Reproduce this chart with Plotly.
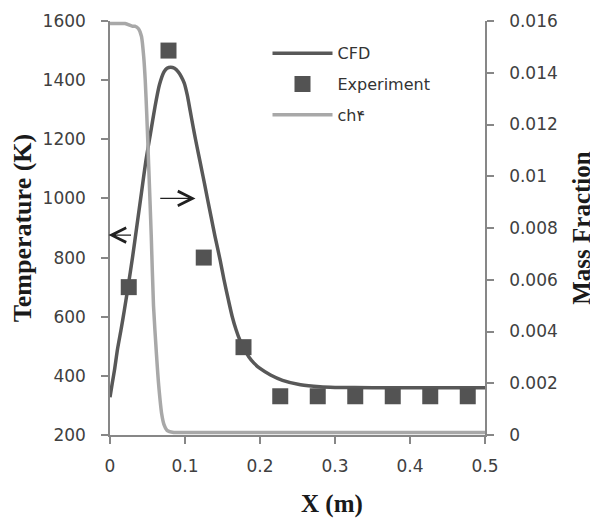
import plotly.graph_objects as go

# ---- data ----
cfd_x = [0.0, 0.003, 0.006, 0.010, 0.015, 0.019, 0.024, 0.030, 0.036, 0.042, 0.048,
         0.054, 0.060, 0.066, 0.072, 0.076, 0.081, 0.086, 0.091, 0.095, 0.099, 0.103,
         0.107, 0.111, 0.114, 0.118, 0.122, 0.126, 0.130, 0.135, 0.140, 0.147, 0.152,
         0.158, 0.163, 0.168, 0.173, 0.178, 0.185, 0.192, 0.200, 0.214, 0.230, 0.254,
         0.280, 0.300, 0.350, 0.400, 0.450, 0.500]
cfd_T = [328, 375, 420, 490, 560, 620, 700, 800, 910, 1020, 1130,
         1220, 1310, 1385, 1428, 1440, 1444, 1440, 1428, 1412, 1390, 1350,
         1295, 1240, 1200, 1150, 1100, 1050, 998, 935, 872, 790, 725,
         655, 600, 557, 522, 495, 465, 443, 425, 403, 385, 370,
         363, 361, 360, 360, 360, 360]

exp_x = [0.025, 0.078, 0.125, 0.178, 0.227, 0.277, 0.327, 0.377, 0.427, 0.477]
exp_T = [700, 1500, 800, 497, 331, 331, 331, 331, 331, 331]

ch4_x = [0.0, 0.020, 0.030, 0.033, 0.038, 0.042, 0.045, 0.047, 0.049, 0.0516, 0.055,
         0.058, 0.062, 0.065, 0.069, 0.072, 0.076, 0.085, 0.100, 0.200, 0.300, 0.400, 0.500]
ch4_y = [0.0159, 0.0159, 0.0158, 0.0158, 0.0157, 0.0154, 0.0146, 0.0137, 0.0124, 0.0104, 0.0077,
         0.0050, 0.0031, 0.0019, 0.0008, 0.0004, 0.00018, 0.0001, 0.0001, 0.0001, 0.0001, 0.0001, 0.0001]

# arrows: (tail_x, tip_x, temperature level)
arrow_left = (0.030, -0.002, 876)
arrow_right = (0.065, 0.114, 1000)

DARK = "#585858"
LIGHT = "#a8a8a8"
AXIS = "#878787"
TICKFONT = dict(family="DejaVu Sans", size=17, color="#404040")
TITLEFONT = dict(family="Liberation Serif", size=26, color="#1a1a1a")

fig = go.Figure()
fig.add_trace(go.Scatter(x=cfd_x, y=cfd_T, mode="lines", name="CFD",
                         line=dict(color=DARK, width=3.5, shape="spline", smoothing=0.6),
                         legendgroup="a"))
fig.add_trace(go.Scatter(x=exp_x, y=exp_T, mode="markers", name="Experiment",
                         marker=dict(symbol="square", size=16, color="#535353"),
                         legendgroup="b"))
fig.add_trace(go.Scatter(x=ch4_x, y=ch4_y, mode="lines", name="ch۴", yaxis="y2",
                         line=dict(color=LIGHT, width=3.5, shape="spline", smoothing=0.6),
                         legendgroup="c"))

for tail_x, tip_x, lvl in (arrow_left, arrow_right):
    fig.add_annotation(x=tip_x, y=lvl, ax=tail_x, ay=lvl, xref="x", yref="y",
                       axref="x", ayref="y", text="", showarrow=True,
                       arrowhead=5, arrowsize=2.2, arrowwidth=1.3, arrowcolor="#202020")

fig.add_annotation(text="<b>X (m)</b>", xref="paper", yref="paper",
                   x=0.593, y=-0.166, xanchor="center", yanchor="middle",
                   showarrow=False, font=dict(family="Liberation Serif", size=25, color="#1a1a1a"))

fig.update_layout(
    width=598, height=521,
    margin=dict(l=102, r=121, t=13, b=94, autoexpand=False),
    paper_bgcolor="white", plot_bgcolor="white",
    showlegend=True,
    legend=dict(x=0.42, y=0.963, xanchor="left", yanchor="top",
                font=dict(family="DejaVu Sans", size=16, color="#333333"),
                bgcolor="rgba(0,0,0,0)", tracegroupgap=7, itemwidth=60),
    xaxis=dict(range=[0, 0.5], dtick=0.1, tick0=0, showgrid=False, zeroline=False,
               showline=True, linecolor=AXIS, linewidth=1.5, automargin=False,
               ticks="outside", ticklen=7, tickcolor=AXIS, tickwidth=1.5,
               tickfont=TICKFONT, ticklabelstandoff=8),
    yaxis=dict(range=[200, 1600], dtick=200, showgrid=False, zeroline=False,
               showline=True, linecolor=AXIS, linewidth=1.5, automargin=False,
               ticks="outside", ticklen=7, tickcolor=AXIS, tickwidth=1.5,
               tickfont=TICKFONT, ticklabelstandoff=12,
               title=dict(text="<b>Temperature (K)</b>", font=TITLEFONT, standoff=6)),
    yaxis2=dict(range=[0, 0.016], dtick=0.002, overlaying="y", side="right",
                showgrid=False, zeroline=False, automargin=False,
                showline=True, linecolor=AXIS, linewidth=1.5,
                ticks="outside", ticklen=7, tickcolor=AXIS, tickwidth=1.5,
                tickfont=TICKFONT, ticklabelstandoff=12,
                title=dict(text="<b>Mass Fraction</b>",
                           font=dict(family="Liberation Serif", size=25, color="#1a1a1a"),
                           standoff=16)),
)

fig.write_html("out.html")
